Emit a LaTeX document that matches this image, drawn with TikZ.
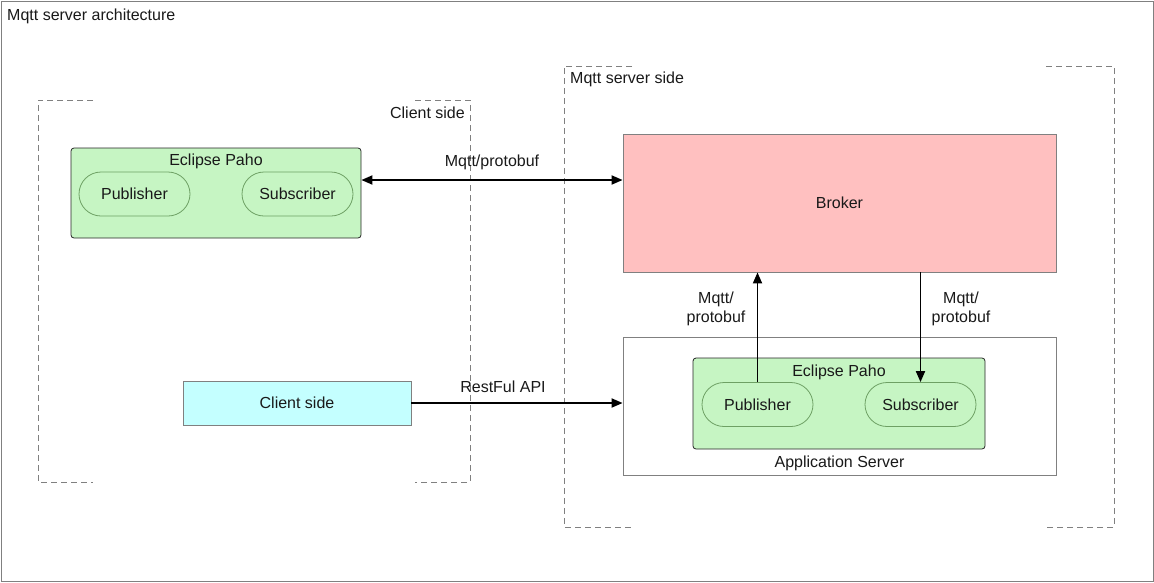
\documentclass[tikz,border=0pt]{standalone}
\usepackage{fontspec}
\setmainfont{Liberation Sans}
\usetikzlibrary{arrows.meta}
\definecolor{paho}{RGB}{198,245,195}
\definecolor{pill}{RGB}{110,160,100}
\definecolor{brokerfill}{RGB}{255,192,192}
\definecolor{cyanfill}{RGB}{196,255,255}
\definecolor{frame}{RGB}{128,128,128}
\definecolor{txt}{RGB}{25,25,25}
\tikzset{
  every node/.style={font=\fontsize{16}{19}\selectfont, text=txt},
  box/.style={draw=#1, line width=0.8pt, inner sep=0pt, anchor=center},
  pahobox/.style={box=black!85, fill=paho, rounded corners=3pt},
  pillbox/.style={box=pill, fill=paho, rounded corners=22pt, minimum width=111pt, minimum height=44pt},
  dashbox/.style={draw=frame, line width=0.8pt, dash pattern=on 6pt off 4pt},
  arr/.style={line width=1.8pt, -{Triangle[length=11pt,width=9pt]}},
  arrboth/.style={line width=1.8pt, {Triangle[length=11pt,width=9pt]}-{Triangle[length=11pt,width=9pt]}},
  lbl/.style={inner sep=0pt, align=center},
}
\begin{document}
\begin{tikzpicture}[x=1pt,y=-1pt]
\useasboundingbox (0,0) rectangle (1154,582);
\draw[frame, line width=1pt] (1,1) rectangle (1153,581);
\node[lbl, anchor=west] (title) at (7,16) {Mqtt server architecture};

% client side dashed container
\draw[dashbox] (93,100) -- (38,100) -- (38,482) -- (93,482);
\draw[dashbox] (415,100) -- (470,100) -- (470,482) -- (415,482);
\node[lbl, anchor=east] (clientlbl) at (465,113) {Client side};

% server side dashed container
\draw[dashbox] (632,66) -- (564,66) -- (564,527) -- (632,527);
\draw[dashbox] (1046,66) -- (1114,66) -- (1114,527) -- (1046,527);
\node[lbl, anchor=west] (serverlbl) at (570,79) {Mqtt server side};

% client Eclipse Paho
\node[pahobox, minimum width=290pt, minimum height=90pt] (paho1) at (216,193) {};
\node[lbl] (paho1lbl) at (216,161) {Eclipse Paho};
\node[pillbox] (pub1) at (134.5,194) {Publisher};
\node[pillbox] (sub1) at (297.5,194) {Subscriber};

% broker
\node[box=frame, fill=brokerfill, minimum width=433pt, minimum height=138pt] (broker) at (839.5,203) {Broker};

% application server
\node[box=frame, fill=white, minimum width=433pt, minimum height=138pt] (app) at (839.5,406) {};
\node[lbl] (applbl) at (839.5,463) {Application Server};
\node[pahobox, minimum width=292pt, minimum height=91pt] (paho2) at (839,403.5) {};
\node[lbl] (paho2lbl) at (839,372) {Eclipse Paho};
\node[pillbox] (pub2) at (757.5,404.5) {Publisher};
\node[pillbox] (sub2) at (920.5,404.5) {Subscriber};

% client side box
\node[box=frame, fill=cyanfill, minimum width=228pt, minimum height=44pt] (client) at (297,403) {Client side};

% connectors
\coordinate (ymq) at (0,180);
\draw[arrboth] (paho1.east |- ymq) -- (broker.west |- ymq);
\node[lbl] (mq1) at (492,162) {Mqtt/protobuf};

\draw[arr] (pub2.north) -- (pub2.north |- broker.south);
\node[lbl] (mq2) at (716,309) {Mqtt/\\protobuf};
\draw[arr] (sub2.north |- broker.south) -- (sub2.north);
\node[lbl] (mq3) at (961,309) {Mqtt/\\protobuf};

\draw[arr] (client.east) -- (app.west |- client.east);
\node[lbl] (rest) at (503,387) {RestFul API};
\end{tikzpicture}
\end{document}
